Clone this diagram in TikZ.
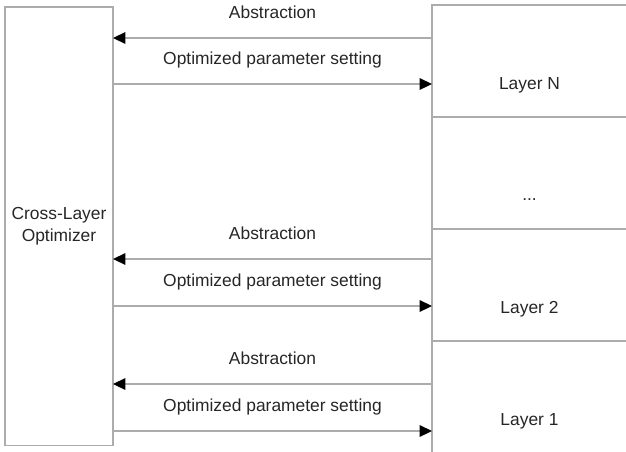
\documentclass[tikz,border=0pt]{standalone}
\usepackage{fontspec}
\setmainfont{Liberation Sans}
\usetikzlibrary{positioning,arrows.meta}

\begin{document}
\begin{tikzpicture}[x=0.5pt, y=-0.5pt,
	box/.style={draw=gray!65, line width=0.7pt, outer sep=0pt, inner sep=0pt},
	layer/.style={box, minimum width=97.5pt, minimum height=56pt},
	conn/.style={draw=gray!65, line width=0.7pt, -{Triangle[black, length=6.2pt, width=5.8pt]}},
	lbl/.style={text=black!85, font=\fontsize{8.7}{11}\selectfont, anchor=base}]
	\clip (0,0) rectangle (626,451);
	\node[box, minimum width=54pt, minimum height=219.4pt, align=center, text=black!85, font=\fontsize{8.7}{11}\selectfont] (opt) at (59,226.3) {Cross-Layer\\Optimizer};

	\node[layer] (layerN) at (529.5,61) {};
	\node[layer, below=0pt of layerN] (dots) {};
	\node[layer, below=0pt of dots] (layer2) {};
	\node[layer, below=0pt of layer2] (layer1) {};
	\node[lbl] at ([yshift=13.75pt]layerN.south) {Layer N};
	\node[lbl] at ([yshift=14.5pt]dots.south) {...};
	\node[lbl] at ([yshift=13.75pt]layer2.south) {Layer 2};
	\node[lbl] at ([yshift=13.75pt]layer1.south) {Layer 1};

	\coordinate (absN) at (0,38);
	\coordinate (optN) at (0,84);
	\coordinate (abs2) at (0,259);
	\coordinate (opt2) at (0,306);
	\coordinate (abs1) at (0,384);
	\coordinate (opt1) at (0,431);

	\draw[conn] (layerN.west |- absN) -- (opt.east |- absN) node[lbl, midway, yshift=10pt]{Abstraction};
	\draw[conn] (opt.east |- optN) -- (layerN.west |- optN) node[lbl, midway, yshift=10pt]{Optimized parameter setting};
	\draw[conn] (layer2.west |- abs2) -- (opt.east |- abs2) node[lbl, midway, yshift=10pt]{Abstraction};
	\draw[conn] (opt.east |- opt2) -- (layer2.west |- opt2) node[lbl, midway, yshift=10pt]{Optimized parameter setting};
	\draw[conn] (layer1.west |- abs1) -- (opt.east |- abs1) node[lbl, midway, yshift=10pt]{Abstraction};
	\draw[conn] (opt.east |- opt1) -- (layer1.west |- opt1) node[lbl, midway, yshift=10pt]{Optimized parameter setting};
\end{tikzpicture}
\end{document}
